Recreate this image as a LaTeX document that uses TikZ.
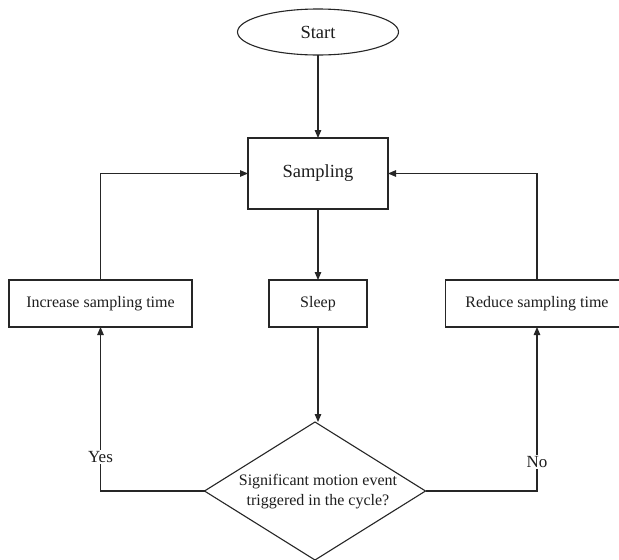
\documentclass[tikz,border=0pt]{standalone}
\usepackage{fontspec}
\setmainfont{Liberation Serif}
\usetikzlibrary{shapes.geometric,arrows.meta}
\definecolor{linec}{HTML}{262626}
\definecolor{textc}{HTML}{1E1E1E}
\begin{document}
\begin{tikzpicture}[x=1pt,y=-1pt,
  every node/.style={text=textc},
  base/.style={draw=linec, line width=1.1pt, inner sep=0pt, outer sep=0pt, font=\fontsize{16}{20}\selectfont},
  boxnode/.style={base, rectangle},
  bigtext/.style={font=\fontsize{18.5}{22}\selectfont},
  startnode/.style={base, ellipse, bigtext},
  decnode/.style={base, diamond},
  dectxt/.style={align=center, inner sep=0pt, font=\fontsize{16}{20}\selectfont},
  flow/.style={draw=linec, line width=1.1pt, -{Triangle[length=8pt,width=6.5pt]}},
  lbl/.style={fill=white, inner sep=1.5pt, font=\fontsize{17}{20}\selectfont}]
\useasboundingbox (0,0) rectangle (619,560);
\fill[white] (0,0) rectangle (619,560);

\node[startnode, minimum width=161pt, minimum height=46pt] (start) at (318,32) {Start};
\node[boxnode, bigtext, minimum width=140pt, minimum height=71pt] (samp) at (318,173.5) {Sampling};
\node[boxnode, minimum width=98pt, minimum height=47pt] (sleep) at (318,303.5) {Sleep};
\node[boxnode, minimum width=183pt, minimum height=47pt] (inc) at (100.5,303.5) {Increase sampling time};
\node[boxnode, minimum width=183pt, minimum height=47pt] (red) at (537,303.5) {Reduce sampling time};
\node[decnode, minimum width=221pt, minimum height=138pt] (dec) at (315,491) {};
\node[dectxt] (dectext) at (318,492) {Significant motion event\\triggered in the cycle?};

\draw[flow] (start) -- (samp);
\draw[flow] (samp) -- (sleep);
\draw[flow] (sleep.south) -- (sleep.south |- dec.north);
\draw[flow] (dec.west) -| node[lbl, pos=0.604] (yes) {Yes} (inc.south);
\draw[flow] (dec.east) -| node[lbl, pos=0.588] (no) {No} (red.south);
\draw[flow] (inc.north) |- (samp.west);
\draw[flow] (red.north) |- (samp.east);
\end{tikzpicture}
\end{document}
